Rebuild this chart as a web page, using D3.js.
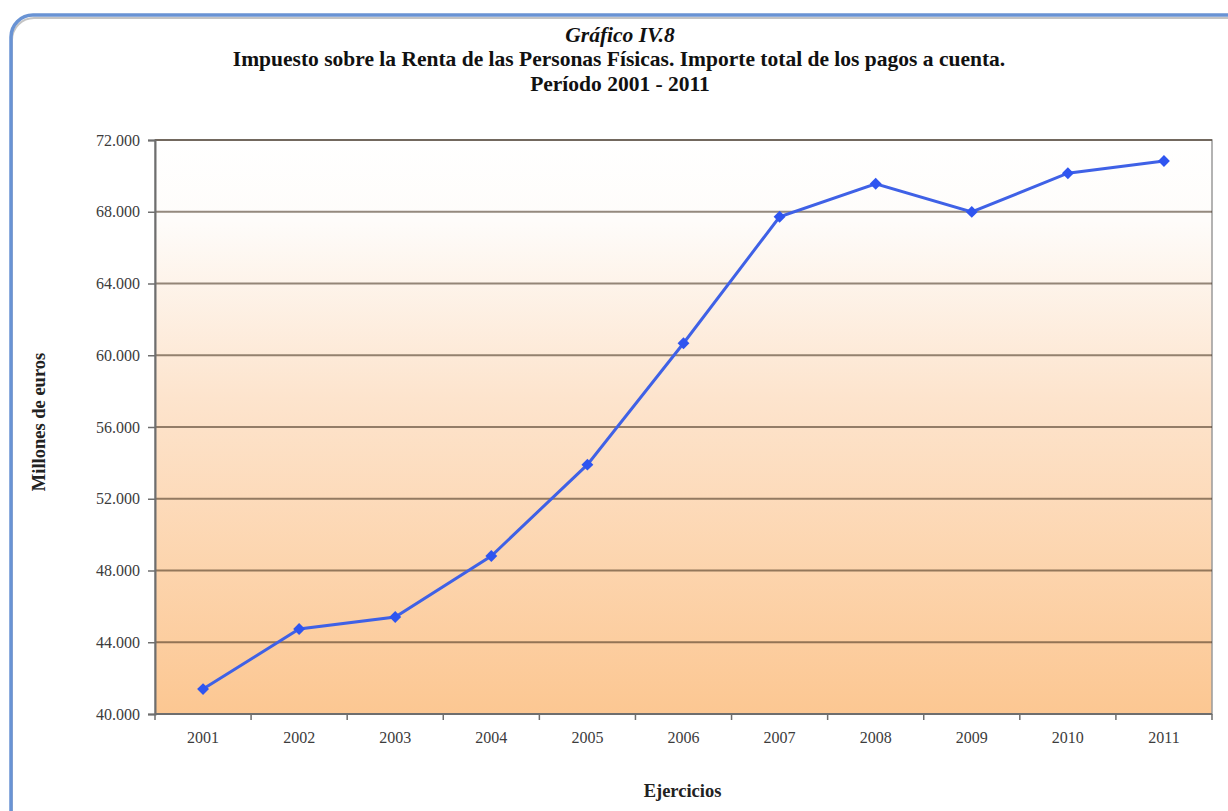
<!DOCTYPE html>
<html>
<head>
<meta charset="utf-8">
<script src="https://cdn.jsdelivr.net/npm/d3@7"></script>
<style>
  body { margin: 0; background: #fff; }
  svg { display: block; font-family: 'Liberation Serif', 'Times New Roman', serif; }
</style>
</head>
<body>
<div id="chart"></div>
<script>
// data (millones de euros)
var years = ['2001', '2002', '2003', '2004', '2005', '2006', '2007', '2008', '2009', '2010', '2011']
var pagos = [41390, 44740, 45410, 48810, 53900, 60670, 67720, 69560, 67990, 70150, 70830]
var yTicks = [40000, 44000, 48000, 52000, 56000, 60000, 64000, 68000, 72000]

var W = 1228
var H = 811
var margin = { top: 140, right: 16, bottom: 97, left: 155 }
var width = W - margin.left - margin.right
var height = H - margin.top - margin.bottom

var svg = d3.select('#chart').append('svg')
  .attr('width', W)
  .attr('height', H)

var defs = svg.append('defs')
var grad = defs.append('linearGradient')
  .attr('id', 'bg')
  .attr('x1', 0).attr('y1', 0).attr('x2', 0).attr('y2', 1)
grad.append('stop').attr('offset', '0%').attr('stop-color', '#ffffff')
grad.append('stop').attr('offset', '14%').attr('stop-color', '#fefcfa')
grad.append('stop').attr('offset', '45%').attr('stop-color', '#fde4cd')
grad.append('stop').attr('offset', '100%').attr('stop-color', '#fcc792')

// outer frame (rounded, runs off the right/bottom of the picture)
svg.append('rect')
  .attr('x', 11).attr('y', 16)
  .attr('width', 1260).attr('height', 840)
  .attr('rx', 22).attr('ry', 22)
  .attr('fill', 'none')
  .attr('stroke', '#c4c4c4')
  .attr('stroke-width', 2)
  .attr('transform', 'translate(1,2)')
svg.append('rect')
  .attr('x', 11).attr('y', 15)
  .attr('width', 1260).attr('height', 840)
  .attr('rx', 22).attr('ry', 22)
  .attr('fill', 'none')
  .attr('stroke', '#6993d4')
  .attr('stroke-width', 3.5)

// titles
var titles = svg.append('g').attr('text-anchor', 'middle').attr('fill', '#111')
titles.append('text')
  .attr('x', 620).attr('y', 42)
  .attr('font-size', 21.5).attr('font-style', 'italic').attr('font-weight', 'bold')
  .text('Gráfico IV.8')
titles.append('text')
  .attr('x', 619).attr('y', 66)
  .attr('font-size', 21.5).attr('font-weight', 'bold')
  .text('Impuesto sobre la Renta de las Personas Físicas. Importe total de los pagos a cuenta.')
titles.append('text')
  .attr('x', 620).attr('y', 91)
  .attr('font-size', 21.5).attr('font-weight', 'bold')
  .text('Período 2001 - 2011')

var g = svg.append('g')
  .attr('transform', 'translate(' + margin.left + ',' + margin.top + ')')

var x = d3.scaleBand()
  .domain(years)
  .range([0, width])

var y = d3.scaleLinear()
  .domain([40000, 72000])
  .range([height, 0])

// plot background
g.append('rect')
  .attr('width', width)
  .attr('height', height)
  .attr('fill', 'url(#bg)')
  .attr('stroke', '#9a9a9a')
  .attr('stroke-width', 1.5)

// gridlines
g.append('g')
  .selectAll('line')
  .data(yTicks)
  .join('line')
  .attr('x1', 0).attr('x2', width)
  .attr('y1', function (d) { return y(d) })
  .attr('y2', function (d) { return y(d) })
  .attr('stroke', '#3d2a18')
  .attr('stroke-opacity', 0.55)
  .attr('stroke-width', 2)

// y axis
var fmt = function (d) { return d3.format(',')(d).replace(/,/g, '.') }
var yAxis = g.append('g')
  .call(d3.axisLeft(y).tickValues(yTicks).tickSize(7).tickPadding(8).tickFormat(fmt))
yAxis.select('.domain').attr('stroke', '#6e6e6e').attr('stroke-width', 2)
yAxis.selectAll('.tick line').attr('stroke', '#6e6e6e').attr('stroke-width', 1.5)
yAxis.selectAll('text')
  .attr('font-family', 'Liberation Serif, serif')
  .attr('font-size', 16)
  .attr('fill', '#3c3c3c')

// x axis: ticks sit on the band edges
var xAxis = g.append('g')
  .attr('transform', 'translate(0,' + height + ')')
xAxis.append('line')
  .attr('x1', 0).attr('x2', width)
  .attr('stroke', '#6e6e6e').attr('stroke-width', 2)
xAxis.selectAll('line.tk')
  .data(years.concat(['end']))
  .join('line')
  .attr('class', 'tk')
  .attr('x1', function (d, i) { return i * x.step() })
  .attr('x2', function (d, i) { return i * x.step() })
  .attr('y1', 0).attr('y2', 6)
  .attr('stroke', '#6e6e6e').attr('stroke-width', 1.5)
xAxis.selectAll('text')
  .data(years)
  .join('text')
  .attr('x', function (d) { return x(d) + x.bandwidth() / 2 })
  .attr('y', 29)
  .attr('text-anchor', 'middle')
  .attr('font-size', 16)
  .attr('fill', '#3c3c3c')
  .text(function (d) { return d })

// axis titles
svg.append('text')
  .attr('x', margin.left + width / 2 - 1).attr('y', 797)
  .attr('text-anchor', 'middle')
  .attr('font-size', 18.5).attr('font-weight', 'bold').attr('fill', '#222')
  .text('Ejercicios')
svg.append('text')
  .attr('transform', 'translate(45,' + (margin.top + height / 2 - 5) + ') rotate(-90)')
  .attr('text-anchor', 'middle')
  .attr('font-size', 18.5).attr('font-weight', 'bold').attr('fill', '#222')
  .text('Millones de euros')

// series
var line = d3.line()
  .x(function (d, i) { return x(years[i]) + x.bandwidth() / 2 })
  .y(function (d) { return y(d) })

g.append('path')
  .datum(pagos)
  .attr('fill', 'none')
  .attr('stroke', '#3f61e6')
  .attr('stroke-width', 3)
  .attr('d', line)

g.selectAll('path.pt')
  .data(pagos)
  .join('path')
  .attr('class', 'pt')
  .attr('d', d3.symbol().type(d3.symbolDiamond2).size(90))
  .attr('transform', function (d, i) {
    return 'translate(' + (x(years[i]) + x.bandwidth() / 2) + ',' + y(d) + ')'
  })
  .attr('fill', '#2f55f0')
</script>
</body>
</html>
